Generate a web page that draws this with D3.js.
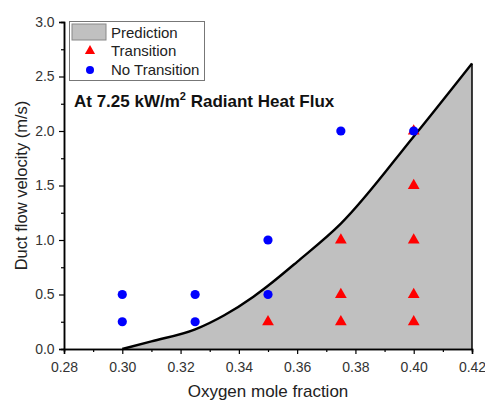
<!DOCTYPE html>
<html>
<head>
<meta charset="utf-8">
<script src="https://cdn.jsdelivr.net/npm/d3@7"></script>
<style>
  body { margin: 0; background: #fff; }
  svg { font-family: "Liberation Sans", Arial, sans-serif; }
</style>
</head>
<body>
<div id="chart"></div>
<script>
// data
const boundaryX = [0.300, 0.310, 0.325, 0.335, 0.345, 0.350, 0.360, 0.375, 0.400, 0.420];
const boundaryY = [0.00, 0.07, 0.18, 0.31, 0.48, 0.58, 0.80, 1.15, 1.95, 2.62];

const transitionX = [0.350, 0.375, 0.375, 0.375, 0.400, 0.400, 0.400, 0.400, 0.400];
const transitionY = [0.25, 0.25, 0.5, 1.0, 0.25, 0.5, 1.0, 1.5, 2.0];

const noTransitionX = [0.300, 0.300, 0.325, 0.325, 0.350, 0.350, 0.375, 0.400];
const noTransitionY = [0.25, 0.5, 0.25, 0.5, 0.5, 1.0, 2.0, 2.0];

const xTicks = [0.28, 0.30, 0.32, 0.34, 0.36, 0.38, 0.40, 0.42];
const yTicks = [0.0, 0.5, 1.0, 1.5, 2.0, 2.5, 3.0];

const width = 485, height = 400;
const margin = {left: 64, right: 13, top: 22, bottom: 51};

const svg = d3.select("#chart").append("svg")
    .attr("width", width)
    .attr("height", height);

const x = d3.scaleLinear().domain([0.28, 0.42]).range([margin.left, width - margin.right]);
const y = d3.scaleLinear().domain([0, 3.0]).range([height - margin.bottom, margin.top]);

// prediction area (below the boundary)
const boundary = boundaryX.map((d, i) => [d, boundaryY[i]]);
const area = d3.area()
    .x(d => x(d[0]))
    .y0(y(0))
    .y1(d => y(d[1]))
    .curve(d3.curveMonotoneX);

svg.append("path")
    .datum(boundary)
    .attr("d", area)
    .attr("fill", "#c0c0c0");

svg.append("path")
    .datum(boundary)
    .attr("d", d3.line().x(d => x(d[0])).y(d => y(d[1])).curve(d3.curveMonotoneX))
    .attr("fill", "none")
    .attr("stroke", "#000")
    .attr("stroke-width", 2.4);

// right edge of the prediction region
const last = boundary[boundary.length - 1];
svg.append("line")
    .attr("x1", x(last[0])).attr("x2", x(last[0]))
    .attr("y1", y(last[1])).attr("y2", y(0))
    .attr("stroke", "#000")
    .attr("stroke-width", 1.5);

// markers
const tri = d3.symbol().type(d3.symbolTriangle).size(60);
svg.append("g").selectAll("path")
    .data(transitionX.map((d, i) => [d, transitionY[i]]))
    .join("path")
    .attr("d", tri)
    .attr("transform", d => `translate(${x(d[0])},${y(d[1])})`)
    .attr("fill", "#ff0000");

svg.append("g").selectAll("circle")
    .data(noTransitionX.map((d, i) => [d, noTransitionY[i]]))
    .join("circle")
    .attr("cx", d => x(d[0]))
    .attr("cy", d => y(d[1]))
    .attr("r", 4.6)
    .attr("fill", "#0000ff");

// axes
const xAxis = svg.append("g")
    .attr("transform", `translate(0,${y(0)})`)
    .call(d3.axisBottom(x).tickValues(xTicks).tickFormat(d3.format(".2f")).tickSizeOuter(0).tickSize(5));
const xMinor = svg.append("g")
    .attr("transform", `translate(0,${y(0)})`)
    .call(d3.axisBottom(x).tickValues(d3.range(0.29, 0.42, 0.02)).tickFormat("").tickSizeOuter(0).tickSize(3));

const yAxis = svg.append("g")
    .attr("transform", `translate(${x(0.28)},0)`)
    .call(d3.axisLeft(y).tickValues(yTicks).tickFormat(d3.format(".1f")).tickSizeOuter(0).tickSize(5));
const yMinor = svg.append("g")
    .attr("transform", `translate(${x(0.28)},0)`)
    .call(d3.axisLeft(y).tickValues(d3.range(0.25, 3.0, 0.5)).tickFormat("").tickSizeOuter(0).tickSize(3));

[xAxis, xMinor, yAxis, yMinor].forEach(g => {
  g.select(".domain").attr("stroke", "#000").attr("stroke-width", 1.5);
  g.selectAll(".tick line").attr("stroke", "#000").attr("stroke-width", 1.2);
  g.selectAll(".tick text")
    .attr("font-family", "Liberation Sans, Arial, sans-serif")
    .attr("font-size", 14)
    .attr("fill", "#333");
});
xAxis.selectAll(".tick text").attr("dy", "1.05em");
yAxis.selectAll(".tick text").attr("dx", "-0.1em");

// axis titles
svg.append("text")
    .attr("x", (x(0.28) + x(0.42)) / 2)
    .attr("y", 397)
    .attr("text-anchor", "middle")
    .attr("font-size", 17)
    .attr("fill", "#222")
    .text("Oxygen mole fraction");

svg.append("text")
    .attr("transform", `translate(27,${(y(0) + y(3)) / 2}) rotate(-90)`)
    .attr("text-anchor", "middle")
    .attr("font-size", 16.5)
    .attr("fill", "#222")
    .text("Duct flow velocity (m/s)");

// annotation
const note = svg.append("text")
    .attr("x", 74)
    .attr("y", 107)
    .attr("font-size", 17)
    .attr("font-weight", "bold")
    .attr("fill", "#111");
note.append("tspan").text("At 7.25 kW/m");
note.append("tspan").attr("dy", -7).attr("font-size", 11).text("2");
note.append("tspan").attr("dy", 7).text(" Radiant Heat Flux");

// legend
const legend = svg.append("g");
legend.append("rect")
    .attr("x", 69.5).attr("y", 21.5)
    .attr("width", 135).attr("height", 59)
    .attr("fill", "#fff")
    .attr("stroke", "#777");
legend.append("rect")
    .attr("x", 72).attr("y", 24)
    .attr("width", 34).attr("height", 16)
    .attr("fill", "#c0c0c0")
    .attr("stroke", "#888");
legend.append("path")
    .attr("d", d3.symbol().type(d3.symbolTriangle).size(45))
    .attr("transform", "translate(90,51)")
    .attr("fill", "#ff0000");
legend.append("circle")
    .attr("cx", 90).attr("cy", 70).attr("r", 4)
    .attr("fill", "#0000ff");
const labels = ["Prediction", "Transition", "No Transition"];
legend.selectAll("text.lab")
    .data(labels)
    .join("text")
    .attr("class", "lab")
    .attr("x", 111)
    .attr("y", (d, i) => 37.5 + i * 18.5)
    .attr("font-size", 15)
    .attr("fill", "#222")
    .text(d => d);
</script>
</body>
</html>
